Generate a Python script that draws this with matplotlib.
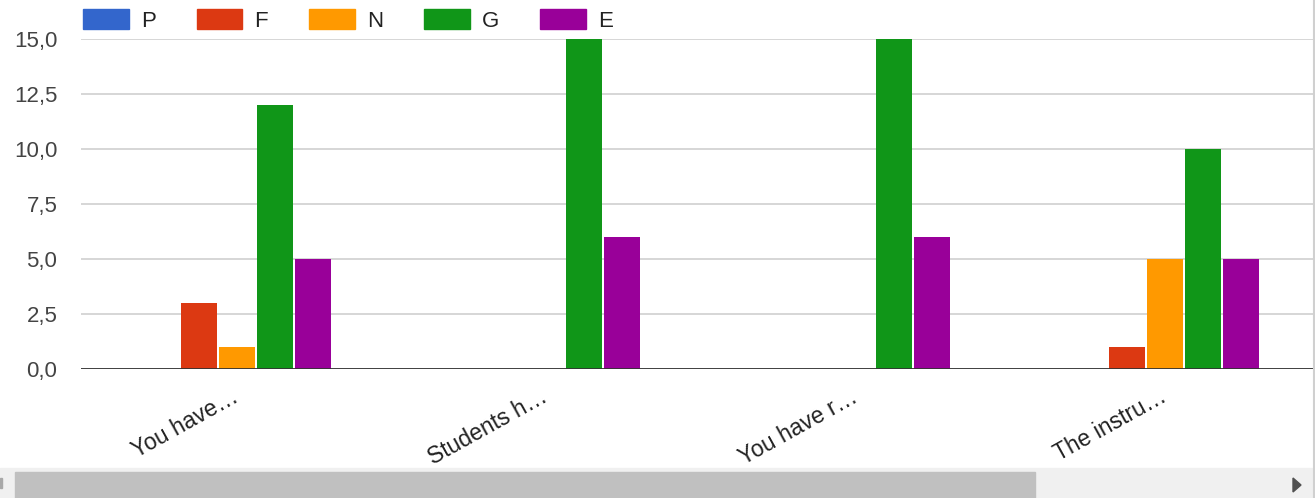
import numpy as np
import matplotlib
matplotlib.use("Agg")
import matplotlib.pyplot as plt
from matplotlib.patches import Rectangle, Polygon
from matplotlib.lines import Line2D
from matplotlib.ticker import FuncFormatter

plt.rcParams['font.family'] = ['Liberation Sans', 'DejaVu Sans']

# Survey answers per question
questions = ["You have\u2026", "Students h\u2026", "You have r\u2026", "The instru\u2026"]
series_names = ["P", "F", "N", "G", "E"]
P = [0, 0, 0, 0]
F = [3, 0, 0, 1]
N = [1, 0, 0, 5]
G = [12, 15, 15, 10]
E = [5, 6, 6, 5]
colors = ["#3366cc", "#dc3912", "#ff9900", "#109618", "#990099"]
y_ticks = [0, 2.5, 5, 7.5, 10, 12.5, 15]

W, H = 1315, 498
fig = plt.figure(figsize=(W / 100, H / 100), dpi=100)
ax = fig.add_axes([81 / W, (H - 369) / H, (1314 - 81) / W, (369 - 39) / H])

x = np.arange(len(questions))
pitch = 0.1229
bw = 0.1164
handles = []
for i, (vals, name, c) in enumerate(zip([P, F, N, G, E], series_names, colors)):
    ax.bar(x + (i - 2) * pitch, vals, width=bw, color=c, zorder=3)
    handles.append(Rectangle((0, 0), 1, 1, color=c, label=name))

ax.set_xlim(-0.504, 3.482)
ax.set_ylim(0, 15)
ax.set_yticks(y_ticks)
ax.yaxis.set_major_formatter(FuncFormatter(lambda v, p: ("%.1f" % v).replace(".", ",")))
ax.grid(axis="y", color="#cccccc", lw=1.1, zorder=0)
ax.axhline(0, color="#333333", lw=2.0, zorder=4)
for s in ax.spines.values():
    s.set_visible(False)

ax.set_xticks(x + 0.01)
ax.set_xticklabels(questions)
ax.tick_params(axis="x", length=0, pad=23, labelsize=16.5, labelcolor="#222222")
ax.tick_params(axis="y", length=0, pad=17, labelsize=16, labelcolor="#444444")
for t in ax.get_xticklabels():
    t.set_rotation(29)
    t.set_ha("right")
    t.set_va("baseline")
    t.set_rotation_mode("anchor")

leg = ax.legend(handles=handles, ncol=5, loc="lower left",
                bbox_to_anchor=(83 / W, (H - 32) / H), bbox_transform=fig.transFigure,
                frameon=False, fontsize=16, handlelength=2.05, handleheight=1.0,
                handletextpad=0.55, columnspacing=1.85, borderpad=0, borderaxespad=0)
for t in leg.get_texts():
    t.set_color("#222222")

# right border and scrollbar
fig.add_artist(Line2D([1313.5 / W, 1313.5 / W], [0, 1], color="#d0d0d0", lw=1.5,
                      transform=fig.transFigure))
fig.add_artist(Rectangle((0, 0), 1313 / W, 30 / H, color="#f0f0f0",
                         transform=fig.transFigure))
fig.add_artist(Rectangle((15 / W, 0), 1020 / W, 26 / H, color="#c0c0c0",
                         transform=fig.transFigure))
fig.add_artist(Rectangle((0, 10 / H), 2 / W, 10 / H, color="#a8a8a8",
                         transform=fig.transFigure))
fig.add_artist(Polygon([(1293 / W, 20 / H), (1293 / W, 6 / H), (1301 / W, 13 / H)],
                       closed=True, color="#505050", transform=fig.transFigure))

fig.savefig("out.png", dpi=100)
